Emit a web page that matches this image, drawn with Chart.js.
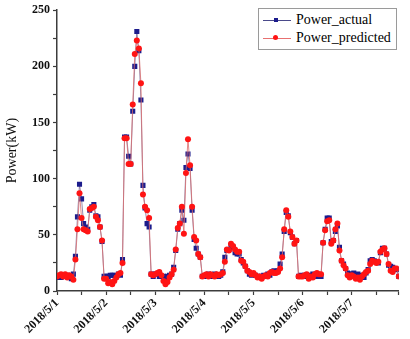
<!DOCTYPE html>
<html>
<head>
<meta charset="utf-8">
<script src="https://cdn.jsdelivr.net/npm/chart.js@4/dist/chart.umd.min.js"></script>
<style>
  html, body { margin: 0; padding: 0; background: #fff; }
  #wrap { position: relative; width: 410px; height: 339px; }
  #legend { position: absolute; left: 258px; top: 8px; width: 139px; height: 42px;
    border: 1px solid #9a9a9a; background: #fff; font-family: "Liberation Serif", "Times New Roman", serif;
    font-size: 14px; color: #000; box-sizing: border-box; }
  .row { position: absolute; left: 0; height: 18px; line-height: 18px; white-space: nowrap; }
  .sample { position: absolute; left: 4px; top: 9px; width: 28px; height: 1px; }
  .mk { position: absolute; }
  .txt { position: absolute; left: 37px; top: 0; }
</style>
</head>
<body>
<div id="wrap">
  <canvas id="c" width="410" height="339"></canvas>
  <div id="legend">
    <div class="row" style="top:2px">
      <div class="sample" style="background:#4a4a8a"></div>
      <div class="mk" style="left:15px;top:7px;width:4px;height:4px;background:#1c1c8c"></div>
      <span class="txt">Power_actual</span>
    </div>
    <div class="row" style="top:20px">
      <div class="sample" style="background:#e87070"></div>
      <div class="mk" style="left:14px;top:6px;width:5px;height:5px;border-radius:50%;background:#ff1414"></div>
      <span class="txt">Power_predicted</span>
    </div>
  </div>
</div>
<script>
// Date tick labels (one per day, every 24 hourly samples)
const dateLabels = ['2018/5/1','2018/5/2','2018/5/3','2018/5/4','2018/5/5','2018/5/6','2018/5/7'];

// Hourly actual power (kW), 5/1 00:00 .. 5/7 23:00
const powerActual = [
  12,13,12,14,13,14,13,11,15,31,66,95,82,60,57,55,72,75,77,67,66,57,44,13,
  13,13,14,14,14,13,15,14,28,137,137,120,113,160,200,231,214,170,94,74,60,57,15,13,
  15,15,13,13,13,12,13,14,15,21,36,55,60,72,63,110,122,109,72,46,38,33,30,13,
  13,14,15,14,13,15,14,13,14,17,30,36,37,40,39,34,33,33,28,25,22,18,15,14,
  15,14,13,12,13,14,13,15,14,17,18,17,18,24,33,53,70,67,52,48,42,45,13,14,
  13,14,13,14,12,15,14,13,13,13,43,55,65,65,44,45,53,58,39,27,24,20,16,15,
  15,16,14,15,14,13,12,16,19,27,28,27,26,25,34,38,38,33,23,22,21,20,19,13
];

// Hourly predicted power (kW)
const powerPredicted = [
  13,14,15,13,15,12,14,13,10,28,55,87,65,55,54,53,73,74,75,66,63,57,45,11,
  11,7,8,6,9,12,15,16,25,136,136,113,113,166,211,223,216,185,86,75,72,65,15,14,
  15,16,17,14,9,6,8,12,15,19,37,56,60,75,51,105,135,112,75,48,45,33,30,13,
  14,15,13,15,14,13,15,14,15,16,26,37,36,42,40,37,35,35,27,26,22,18,17,15,
  16,14,12,13,11,13,14,13,16,17,16,16,17,20,30,55,72,66,53,48,42,45,13,13,
  13,14,15,11,13,12,15,16,15,15,43,54,62,63,42,45,55,60,36,27,23,20,14,12,
  14,13,11,12,10,13,15,17,18,24,27,26,25,26,35,37,38,33,24,18,17,20,20,13
];

const toPts = arr => arr.map((v, i) => ({ x: i, y: v }));

const axisColor = '#3c3c3c';
const serif = '"Liberation Serif", "Times New Roman", serif';

new Chart(document.getElementById('c'), {
  type: 'line',
  data: {
    datasets: [
      {
        label: 'Power_predicted',
        data: toPts(powerPredicted),
        borderColor: 'rgba(220,110,110,0.8)',
        borderWidth: 1,
        pointStyle: 'circle',
        pointRadius: 3,
        pointBackgroundColor: '#ff1414',
        pointBorderWidth: 0,
        tension: 0,
        order: 1
      },
      {
        label: 'Power_actual',
        data: toPts(powerActual),
        borderColor: 'rgba(110,90,140,0.7)',
        borderWidth: 1,
        pointStyle: 'rect',
        pointRadius: 3.6,
        pointBackgroundColor: '#1c1c8c',
        pointBorderWidth: 0,
        tension: 0,
        order: 2
      }
    ]
  },
  options: {
    responsive: false,
    animation: false,
    events: [],
    layout: { padding: { top: 3, right: 4, left: 0, bottom: 0 } },
    plugins: { legend: { display: false }, tooltip: { enabled: false } },
    scales: {
      x: {
        type: 'linear',
        min: 0,
        max: powerActual.length - 1,
        grid: { display: true, drawOnChartArea: false, drawTicks: true, tickLength: 4, color: axisColor, tickWidth: 1.2 },
        border: { display: true, color: axisColor, width: 1.5 },
        ticks: {
          stepSize: 12,
          autoSkip: false,
          minRotation: 45,
          maxRotation: 45,
          padding: 1,
          color: '#111',
          font: { family: serif, size: 12, weight: 'bold' },
          callback: v => (v % 24 === 0 && dateLabels[v / 24] !== undefined) ? dateLabels[v / 24] : ''
        },
        afterFit: s => { s.height = 48; }
      },
      y: {
        min: 0,
        max: 250,
        grid: { display: true, drawOnChartArea: false, drawTicks: true, tickLength: 4, color: axisColor, tickWidth: 1.2 },
        border: { display: true, color: axisColor, width: 1.5 },
        ticks: {
          stepSize: 25,
          padding: 3,
          color: '#111',
          font: { family: serif, size: 12, weight: 'bold' },
          callback: v => (v % 50 === 0) ? v : ''
        },
        title: {
          display: true,
          text: 'Power(kW)',
          color: '#111',
          padding: { top: 4, bottom: 0 },
          font: { family: serif, size: 14 }
        },
        afterFit: s => { s.width = 57; }
      }
    }
  }
});
</script>
</body>
</html>
